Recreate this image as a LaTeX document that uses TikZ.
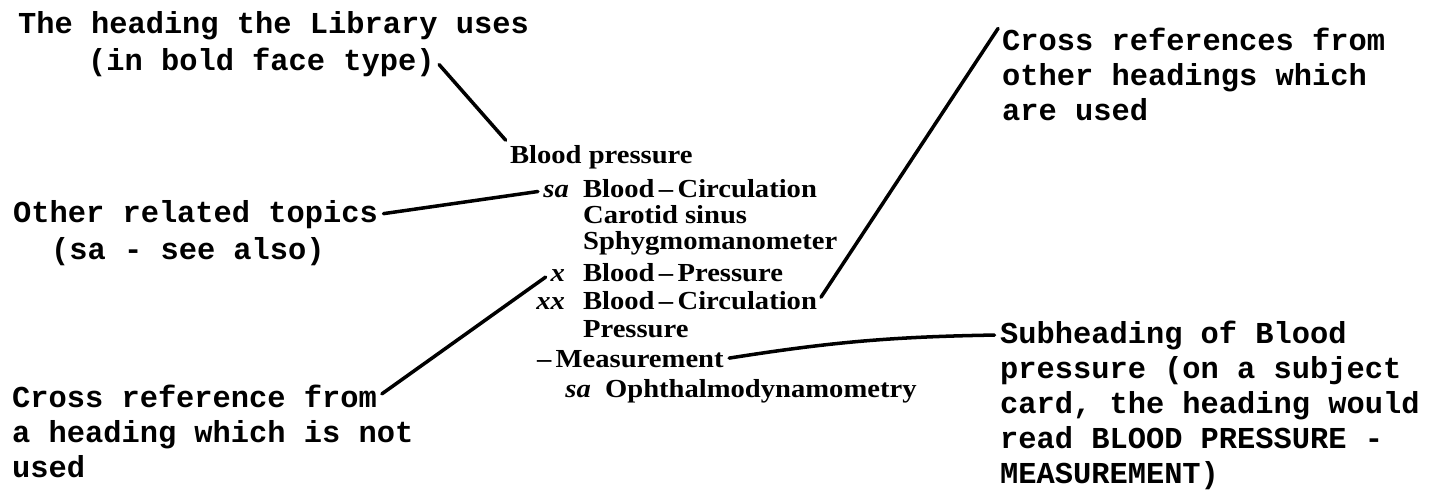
\documentclass[tikz,border=0pt]{standalone}
\usepackage{fontspec}
\usepackage{tikz}
\usetikzlibrary{positioning}
\newfontfamily\typefont{Liberation Mono}
\newfontfamily\cardfont[FakeStretch=1.1,Ligatures=TeX]{Liberation Serif}
\tikzset{
  note/.style={
    anchor=base west, inner sep=1pt, align=left,
    font=\typefont\bfseries\fontsize{17.3}{19.9}\selectfont
  },
  entry/.style={
    anchor=base west, inner sep=1pt,
    font=\cardfont\bfseries\fontsize{14.8}{16.5}\selectfont
  },
  tag/.style={
    anchor=base east, inner sep=1pt,
    font=\cardfont\bfseries\itshape\fontsize{14.8}{16.5}\selectfont
  },
  lead/.style={draw=black, line width=2pt, line cap=round, shorten <=2pt, shorten >=2pt}
}
\begin{document}
\begin{tikzpicture}[x=0.02cm, y=-0.02cm]
  \useasboundingbox (0,0) rectangle (1437,501);
  % catalogue entry
  \node[entry] (bp) at (508,163) {Blood pressure};
  \node[tag] (satag) at (571,197) {sa};
  \node[entry] (sacirc) at (581,197) {Blood\,--\,Circulation};
  \node[entry] (carotid) at (581,223) {Carotid sinus};
  \node[entry] (sphyg) at (581,249) {Sphygmomanometer};
  \node[tag] (xtag) at (567,281) {x};
  \node[entry] (xref) at (581,281) {Blood\,--\,Pressure};
  \node[tag] (xxtag) at (567,309) {xx};
  \node[entry] (xxref) at (581,309) {Blood\,--\,Circulation};
  \node[entry] (press) at (581,337) {Pressure};
  \node[entry] (meas) at (535,367) {--\,Measurement};
  \node[tag] (satag2) at (593,397) {sa};
  \node[entry] (ophth) at (603,397) {Ophthalmodynamometry};
  % typed notes (multi-line ones sit on their last baseline)
  \node[note] (libnote) at (16,33) {The heading the Library uses};
  \node[note] (boldnote) at (86,70) {(in bold face type)};
  \node[note] (relnote) at (11,222) {Other related topics};
  \node[note] (seealso) at (49,259) {(sa - see also)};
  \node[note] (notusedA) at (10,407) {Cross reference from};
  \node[note] (notusedB) at (10,477) {a heading which is not\\used};
  \node[note] (usedref) at (1000,120) {Cross references from\\other headings which\\are used};
  \node[note] (subA) at (998,343) {Subheading of Blood};
  \node[note] (subB) at (998,483)
    {pressure (on a subject\\card, the heading would\\read BLOOD PRESSURE -\\MEASUREMENT)};
  % leaders
  \draw[lead] (boldnote.east) -- (bp.north west);
  \draw[lead] (relnote.east) -- (satag.west);
  \draw[lead] (notusedA.east) -- (xtag.west);
  \draw[lead] (usedref.north west) -- (xxref.east);
  \draw[lead] (meas.east) to[bend left=4] (subA.west);
\end{tikzpicture}
\end{document}
